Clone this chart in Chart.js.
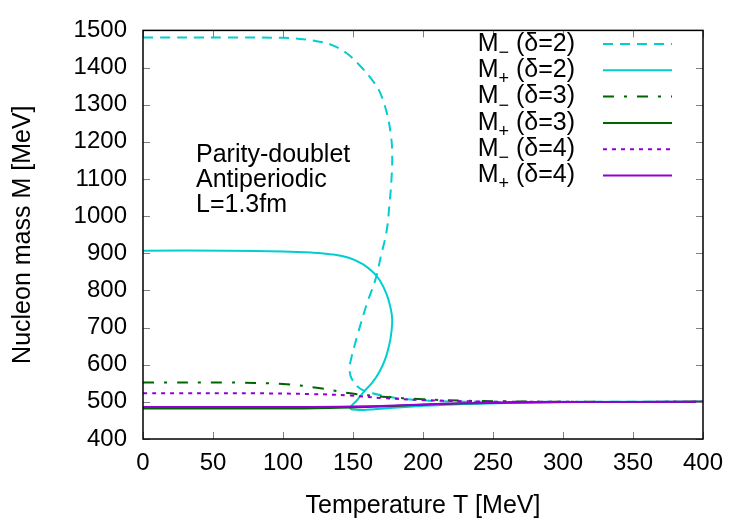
<!DOCTYPE html>
<html lang="en">
<head>
<meta charset="UTF-8">
<title>Nucleon mass vs temperature</title>
<script src="https://cdn.jsdelivr.net/npm/chart.js"></script>
<style>
  html, body { margin: 0; padding: 0; background: #fff; }
  #wrap { width: 750px; height: 525px; }
</style>
</head>
<body>
<div id="wrap"><canvas id="chart" width="750" height="525"></canvas></div>
<script>
// ticks
const xTicks = [0, 50, 100, 150, 200, 250, 300, 350, 400];
const yTicks = [400, 500, 600, 700, 800, 900, 1000, 1100, 1200, 1300, 1400, 1500];

// delta = 2 (both branches bend back, so points are (T, M) pairs)
const tMinus2 = [0, 60, 100, 112, 124, 134, 145, 155, 163, 169, 174, 177, 178, 177.5, 176, 174, 170, 166, 160, 153, 148, 147.6, 149, 155, 164, 174, 184, 200, 219, 250, 300, 400];
const mMinus2 = [1481, 1481, 1480, 1477, 1471, 1462, 1440, 1405, 1370, 1335, 1280, 1220, 1170, 1100, 1030, 960, 893, 829, 765, 677, 605, 585, 563, 536, 523, 515, 509, 504, 501, 500, 500, 500];
const tPlus2 = [0, 60, 100, 120, 135, 147, 157, 164, 169, 174, 177, 178, 177.5, 176, 173, 169, 164, 158, 153, 148, 152, 158, 165, 175, 190, 210, 240, 280, 340, 400];
const mPlus2 = [907, 907, 905, 902, 897, 888, 871, 850, 828, 790, 750, 722, 690, 655, 615, 582, 553, 528, 505, 483, 479, 478, 480, 483, 487, 491, 495, 498, 500, 500];

// delta = 3
const tMinus3 = [0, 60, 100, 124, 148, 171, 200, 230, 270, 320, 400];
const mMinus3 = [552, 552, 548, 538, 523, 514, 507, 503, 501, 500, 500];
const tPlus3 = [0, 100, 140, 160, 180, 200, 230, 260, 300, 400];
const mPlus3 = [482, 482, 484, 486, 489, 492, 496, 498, 499.5, 500];

// delta = 4
const tMinus4 = [0, 80, 120, 148, 171, 200, 240, 300, 400];
const mMinus4 = [523, 523, 521, 517, 510, 505, 501, 500, 500];
const tPlus4 = [0, 100, 140, 160, 180, 200, 230, 260, 300, 400];
const mPlus4 = [486, 486, 487, 488, 490, 493, 496, 498, 499.5, 500];

const seriesSign = ['\u2212', '+', '\u2212', '+', '\u2212', '+'];
const seriesDelta = ['2', '2', '3', '3', '4', '4'];
const noteLines = ['Parity-doublet', 'Antiperiodic', 'L=1.3fm'];

const FONT = "'Liberation Sans', Arial, Helvetica, sans-serif";
const CYAN = '#00ced1', GREEN = '#006400', PURPLE = '#9400d3';

function pts(ts, ms) {
  return ts.map((t, i) => ({ x: t, y: ms[i] }));
}

function line(data, color, dash, order) {
  return {
    data: data,
    borderColor: color,
    backgroundColor: color,
    borderWidth: 2,
    borderDash: dash,
    pointRadius: 0,
    tension: 0.4,
    fill: false,
    order: order
  };
}

const datasets = [
  line(pts(tMinus2, mMinus2), CYAN, [10, 7], 5),
  line(pts(tPlus2, mPlus2), CYAN, [], 4),
  line(pts(tMinus3, mMinus3), GREEN, [11, 10, 3, 10], 3),
  line(pts(tPlus3, mPlus3), GREEN, [], 2),
  line(pts(tMinus4, mMinus4), PURPLE, [4, 5], 1),
  line(pts(tPlus4, mPlus4), PURPLE, [], 0)
];

// frame, inward ticks, legend and note
const decorations = {
  id: 'decorations',
  afterDraw(chart) {
    const ctx = chart.ctx;
    const a = chart.chartArea;
    const xs = chart.scales.x, ys = chart.scales.y;
    ctx.save();

    // ticks (inward, mirrored)
    ctx.strokeStyle = '#808080';
    ctx.lineWidth = 1;
    ctx.beginPath();
    xTicks.forEach(v => {
      const px = Math.round(xs.getPixelForValue(v)) + 0.5;
      ctx.moveTo(px, a.bottom); ctx.lineTo(px, a.bottom - 7);
      ctx.moveTo(px, a.top); ctx.lineTo(px, a.top + 7);
    });
    yTicks.forEach(v => {
      const py = Math.round(ys.getPixelForValue(v)) + 0.5;
      ctx.moveTo(a.left, py); ctx.lineTo(a.left + 7, py);
      ctx.moveTo(a.right, py); ctx.lineTo(a.right - 7, py);
    });
    ctx.stroke();

    // frame
    ctx.strokeStyle = '#000';
    ctx.lineWidth = 1.5;
    ctx.strokeRect(a.left, a.top, a.right - a.left, a.bottom - a.top);

    // legend
    const size = 25;
    const textRight = 575, lineX0 = 603, lineX1 = 672;
    const rowY0 = 44, rowStep = 26.3;
    ctx.textBaseline = 'middle';
    datasets.forEach((ds, i) => {
      const y = rowY0 + i * rowStep;
      const rest = ' (\u03b4=' + seriesDelta[i] + ')';
      ctx.font = size + 'px ' + FONT;
      const wM = ctx.measureText('M').width;
      const wRest = ctx.measureText(rest).width;
      ctx.font = Math.round(size * 0.72) + 'px ' + FONT;
      const wSub = ctx.measureText(seriesSign[i]).width;
      let x = textRight - wRest - wSub - wM;
      ctx.fillStyle = '#000';
      ctx.textAlign = 'left';
      ctx.font = size + 'px ' + FONT;
      ctx.fillText('M', x, y);
      ctx.font = Math.round(size * 0.72) + 'px ' + FONT;
      ctx.fillText(seriesSign[i], x + wM, y + 9);
      ctx.font = size + 'px ' + FONT;
      ctx.fillText(rest, x + wM + wSub, y);

      ctx.strokeStyle = ds.borderColor;
      ctx.lineWidth = ds.borderWidth;
      ctx.setLineDash(ds.borderDash);
      ctx.beginPath();
      ctx.moveTo(lineX0, y);
      ctx.lineTo(lineX1, y);
      ctx.stroke();
      ctx.setLineDash([]);
    });

    // note
    ctx.fillStyle = '#000';
    ctx.textAlign = 'left';
    ctx.font = size + 'px ' + FONT;
    noteLines.forEach((s, i) => ctx.fillText(s, 196, 155 + i * 25));

    ctx.restore();
  }
};

new Chart(document.getElementById('chart'), {
  type: 'line',
  data: { datasets: datasets },
  options: {
    responsive: false,
    animation: false,
    layout: { padding: { top: 26, right: 47, left: 0, bottom: 0 } },
    plugins: {
      legend: { display: false },
      tooltip: { enabled: false }
    },
    scales: {
      x: {
        type: 'linear',
        min: 0,
        max: 400,
        afterBuildTicks: s => { s.ticks = xTicks.map(v => ({ value: v })); },
        afterFit: s => { s.height = 86; },
        grid: { display: false, drawTicks: false },
        border: { display: false },
        ticks: { color: '#000', padding: 10, maxRotation: 0, callback: v => String(v), font: { family: FONT, size: 24 } },
        title: { display: true, text: 'Temperature T [MeV]', color: '#000', padding: { top: 3 }, font: { family: FONT, size: 25 } }
      },
      y: {
        type: 'linear',
        min: 400,
        max: 1500,
        afterBuildTicks: s => { s.ticks = yTicks.map(v => ({ value: v })); },
        afterFit: s => { s.width = 143; },
        grid: { display: false, drawTicks: false },
        border: { display: false },
        ticks: { color: '#000', padding: 16, callback: v => String(v), font: { family: FONT, size: 24 } },
        title: { display: true, text: 'Nucleon mass M [MeV]', color: '#000', padding: { top: 8, bottom: 8 }, font: { family: FONT, size: 25 } }
      }
    }
  },
  plugins: [decorations]
});
</script>
</body>
</html>
